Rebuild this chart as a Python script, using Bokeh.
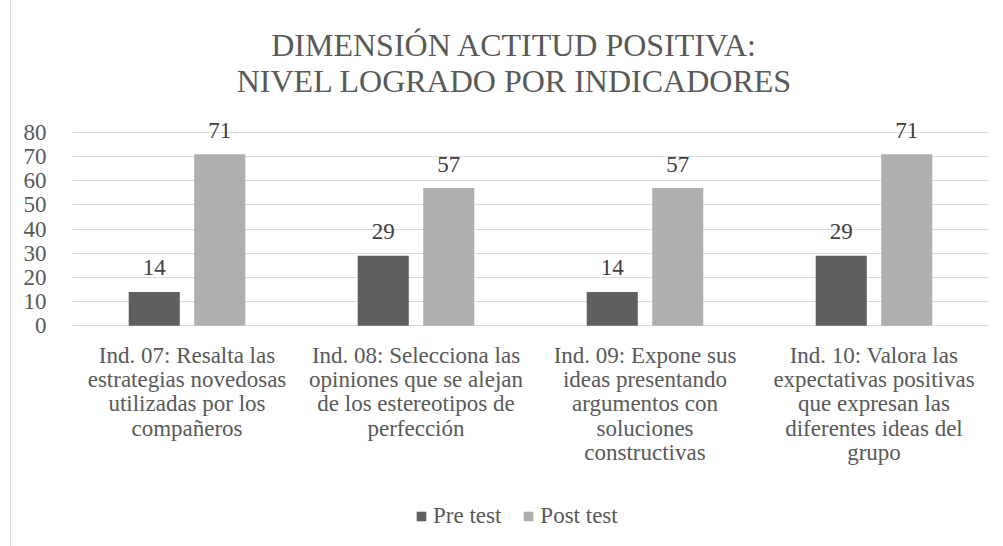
from bokeh.plotting import figure
from bokeh.models import (FactorRange, Range1d, FixedTicker, LabelSet, Label, Legend,
                          LegendItem, ColumnDataSource)
from bokeh.transform import dodge
from bokeh.core.properties import value
from bokeh.embed import file_html
from bokeh.resources import INLINE

categories = [
    "Ind. 07: Resalta las\nestrategias novedosas\nutilizadas por los\ncompañeros",
    "Ind. 08: Selecciona las\nopiniones que se alejan\nde los estereotipos de\nperfección",
    "Ind. 09: Expone sus\nideas presentando\nargumentos con\nsoluciones\nconstructivas",
    "Ind. 10: Valora las\nexpectativas positivas\nque expresan las\ndiferentes ideas del\ngrupo",
]
pre_test = [14, 29, 14, 29]
post_test = [71, 57, 57, 71]
series_names = ["Pre test", "Post test"]
y_ticks = [0, 10, 20, 30, 40, 50, 60, 70, 80]
title_lines = ["DIMENSIÓN ACTITUD POSITIVA:", "NIVEL LOGRADO POR INDICADORES"]

FONT = "Liberation Serif"
TXT = "#595959"

# layout (pixels)
OFFSET = 11           # left margin + 1px border of the chart area
W, H = 995 - OFFSET, 546
Y0_PX, Y80_PX = 325.3, 132.0
ppu = (Y0_PX - Y80_PX) / 80.0
y_start = -(H - Y0_PX) / ppu
y_end = 80 + Y80_PX / ppu

src = ColumnDataSource(dict(cat=categories, pre=pre_test, post=post_test,
                            pre_lbl=[str(v) for v in pre_test],
                            post_lbl=[str(v) for v in post_test]))

p = figure(width=W, height=H, x_range=FactorRange(*categories, range_padding=0),
           y_range=Range1d(y_start, y_end), output_backend="svg", toolbar_location=None,
           min_border_left=72 - OFFSET, min_border_right=7, min_border_top=0,
           min_border_bottom=0)
p.styles = {"border-left": "1px solid #d9d9d9", "margin-left": "10px"}
p.outline_line_color = None
p.background_fill_color = None
p.border_fill_color = "white"
p.xaxis.visible = False

r_pre = p.vbar(x=dodge("cat", -0.143, range=p.x_range), top="pre", bottom=0, width=0.223,
               source=src, fill_color="#5f5f5f", line_color=None)
r_post = p.vbar(x=dodge("cat", 0.143, range=p.x_range), top="post", bottom=0, width=0.223,
                source=src, fill_color="#afafaf", line_color=None)

for fld, off in (("pre", -0.143), ("post", 0.143)):
    p.add_layout(LabelSet(x=dodge("cat", off, range=p.x_range), y=fld, text=fld + "_lbl",
                          source=src, y_offset=24, text_align="center", text_baseline="middle",
                          text_font=value(FONT), text_font_size="23px", text_color="#404040"))

# category labels under the bars
p.text(x="cat", y=0, text="cat", source=src, y_offset=17, text_align="center",
       text_baseline="top", text_font=value(FONT), text_font_size="23px",
       text_color=TXT, text_line_height=0.97)

p.xgrid.grid_line_color = None
p.ygrid.grid_line_color = "#d9d9d9"
p.ygrid.grid_line_width = 1
p.yaxis.ticker = FixedTicker(ticks=y_ticks)
ax = p.yaxis[0]
ax.major_label_text_font = FONT
ax.major_label_text_font_size = "23px"
ax.major_label_text_color = TXT
ax.major_tick_line_color = None
ax.minor_tick_line_color = None
ax.axis_line_color = None
ax.major_label_standoff = 20

for i, t in enumerate(title_lines):
    p.add_layout(Label(x=442, y=H - 44 - 36 * i, x_units="screen", y_units="screen", text=t,
                       text_align="center", text_baseline="middle", text_font=FONT,
                       text_font_size="32px", text_color=TXT))

legend = Legend(items=[LegendItem(label=series_names[0], renderers=[r_pre]),
                       LegendItem(label=series_names[1], renderers=[r_post])],
                location=(343, H - 529), orientation="horizontal",
                glyph_width=12, glyph_height=12, label_standoff=6, spacing=21,
                padding=0, margin=0, border_line_color=None, background_fill_alpha=0,
                label_text_font=FONT, label_text_font_size="23px", label_text_color=TXT,
                label_height=24)
p.add_layout(legend)

open("out.html", "w").write(file_html(p, INLINE))
